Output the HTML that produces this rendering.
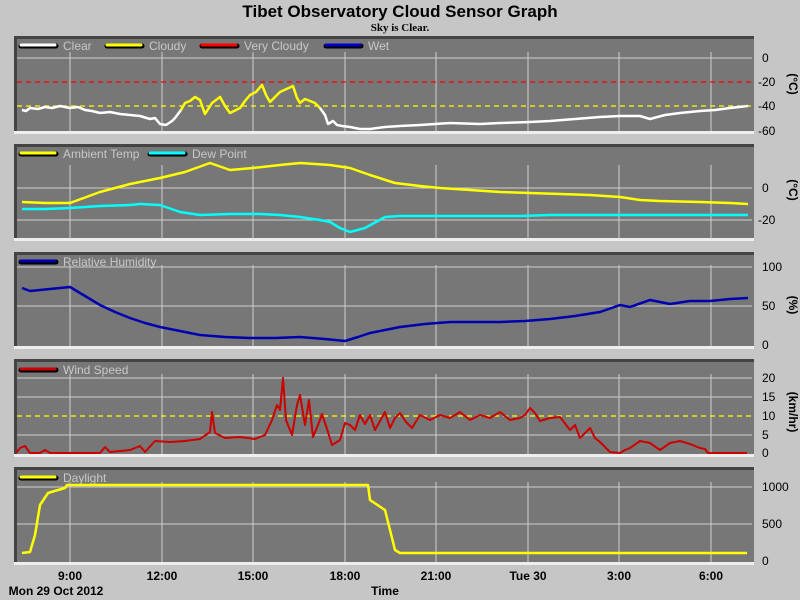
<!DOCTYPE html>
<html><head><meta charset="utf-8"><style>
body{margin:0;width:800px;height:600px;background:#c6c6c6;overflow:hidden}
svg{display:block}
text{font-family:"Liberation Sans",sans-serif}
</style></head><body>
<svg width="800" height="600" viewBox="0 0 800 600">
<defs>
<g id="vg" stroke="#cfcfcf" stroke-width="1">
<line x1="70" x2="70" y1="0" y2="100"/><line x1="162" x2="162" y1="0" y2="100"/><line x1="253" x2="253" y1="0" y2="100"/><line x1="345" x2="345" y1="0" y2="100"/><line x1="436" x2="436" y1="0" y2="100"/><line x1="528" x2="528" y1="0" y2="100"/><line x1="619" x2="619" y1="0" y2="100"/><line x1="711" x2="711" y1="0" y2="100"/>
</g>
</defs>
<text x="400" y="17" text-anchor="middle" font-size="17" font-weight="bold" fill="#000">Tibet Observatory Cloud Sensor Graph</text>
<text x="400" y="31" text-anchor="middle" font-size="11" font-weight="bold" fill="#000" style="font-family:'Liberation Serif',serif">Sky is Clear.</text>

<g>
<rect x="14" y="36" width="740" height="98" fill="#777"/><rect x="14" y="36" width="740" height="3" fill="#444"/><rect x="14" y="36" width="3" height="98" fill="#444"/><rect x="14" y="131" width="740" height="3" fill="#eee"/>
<rect x="14" y="144" width="740" height="97" fill="#777"/><rect x="14" y="144" width="740" height="3" fill="#444"/><rect x="14" y="144" width="3" height="97" fill="#444"/><rect x="14" y="238" width="740" height="3" fill="#eee"/>
<rect x="14" y="252" width="740" height="97" fill="#777"/><rect x="14" y="252" width="740" height="3" fill="#444"/><rect x="14" y="252" width="3" height="97" fill="#444"/><rect x="14" y="346" width="740" height="3" fill="#eee"/>
<rect x="14" y="359" width="740" height="98" fill="#777"/><rect x="14" y="359" width="740" height="3" fill="#444"/><rect x="14" y="359" width="3" height="98" fill="#444"/><rect x="14" y="454" width="740" height="3" fill="#eee"/>
<rect x="14" y="467" width="740" height="98" fill="#777"/><rect x="14" y="467" width="740" height="3" fill="#444"/><rect x="14" y="467" width="3" height="98" fill="#444"/><rect x="14" y="562" width="740" height="3" fill="#eee"/>
</g>
<g transform="translate(0,52) scale(1,0.79)"><use href="#vg"/></g>
<g transform="translate(0,165) scale(1,0.74)"><use href="#vg"/></g>
<g transform="translate(0,265) scale(1,0.81)"><use href="#vg"/></g>
<g transform="translate(0,374) scale(1,0.80)"><use href="#vg"/></g>
<g transform="translate(0,482) scale(1,0.80)"><use href="#vg"/></g>
<g stroke="#cfcfcf" stroke-width="1">
<line x1="17" x2="752" y1="58" y2="58"/>
<line x1="17" x2="752" y1="188" y2="188"/><line x1="17" x2="752" y1="220" y2="220"/>
<line x1="17" x2="752" y1="267" y2="267"/><line x1="17" x2="752" y1="306" y2="306"/>
<line x1="17" x2="752" y1="378" y2="378"/><line x1="17" x2="752" y1="397" y2="397"/><line x1="17" x2="752" y1="435" y2="435"/>
<line x1="17" x2="752" y1="487" y2="487"/><line x1="17" x2="752" y1="524" y2="524"/>
</g>
<g stroke-dasharray="5,4" stroke-width="1.3">
<line x1="17" x2="752" y1="82" y2="82" stroke="#f00"/>
<line x1="17" x2="752" y1="106" y2="106" stroke="#ff0"/>
<line x1="17" x2="752" y1="416" y2="416" stroke="#ff0"/>
</g>

<g font-size="12" fill="#c8c8c8">
<g stroke-width="5" stroke-linecap="round">
<line x1="21" x2="56" y1="46" y2="46" stroke="#000"/><line x1="21" x2="55" y1="45" y2="45" stroke="#fff" stroke-width="3"/>
<line x1="107" x2="142" y1="46" y2="46" stroke="#000"/><line x1="107" x2="141" y1="45" y2="45" stroke="#ff0" stroke-width="3"/>
<line x1="202" x2="237" y1="46" y2="46" stroke="#000"/><line x1="202" x2="236" y1="45" y2="45" stroke="#f00" stroke-width="3"/>
<line x1="326" x2="361" y1="46" y2="46" stroke="#000"/><line x1="326" x2="360" y1="45" y2="45" stroke="#00c" stroke-width="3"/>
<line x1="21" x2="56" y1="154" y2="154" stroke="#000"/><line x1="21" x2="55" y1="153" y2="153" stroke="#ff0" stroke-width="3"/>
<line x1="150" x2="185" y1="154" y2="154" stroke="#000"/><line x1="150" x2="184" y1="153" y2="153" stroke="#0ff" stroke-width="3"/>
<line x1="21" x2="56" y1="262" y2="262" stroke="#000"/><line x1="21" x2="55" y1="261" y2="261" stroke="#0000b0" stroke-width="3"/>
<line x1="21" x2="56" y1="370" y2="370" stroke="#000"/><line x1="21" x2="55" y1="369" y2="369" stroke="#c00" stroke-width="3"/>
<line x1="21" x2="56" y1="478" y2="478" stroke="#000"/><line x1="21" x2="55" y1="477" y2="477" stroke="#ff0" stroke-width="3"/>
</g>
<text x="63" y="50">Clear</text><text x="149" y="50">Cloudy</text><text x="244" y="50">Very Cloudy</text><text x="368" y="50">Wet</text>
<text x="63" y="158">Ambient Temp</text><text x="192" y="158">Dew Point</text>
<text x="63" y="266">Relative Humidity</text>
<text x="63" y="374">Wind Speed</text>
<text x="63" y="482">Daylight</text>
</g>

<g fill="none" stroke-width="2.5" stroke-linejoin="round">
<polyline stroke="#fff" points="22,110 26,111 30,108 38,109 45,107 52,108 60,106 70,108 78,107 85,110 92,111 100,113 110,112 120,114 130,115 140,116 150,119 155,118 160,124 166,125 172,121 175,118 181,110"/>
<polyline stroke="#ff0" points="181,110 185,103 190,101 195,97 200,100 205,114 212,103 220,97 225,106 230,113 240,108 245,101 250,95 256,92 262,85 266,95 270,102 280,92 293,86 297,98 300,103 305,99 310,101 315,103 320,108"/>
<polyline stroke="#fff" points="320,108 325,115 328,124 333,121 337,125 342,126 350,127 360,129 370,129 385,127 400,126 420,125 450,123 480,124 500,123 530,122 550,121 575,119 600,117 620,116 640,116 650,119 665,115 680,113 700,111 715,110 730,108 748,106"/>
<polyline stroke="#ff0" points="22,202 45,203 70,203 100,192 130,184 160,178 185,172 210,163 230,170 253,168 280,165 300,163 330,165 350,168 370,175 395,183 420,186 440,188 470,190 500,192 530,193 560,194 590,195 620,197 640,200 660,201 700,202 730,203 748,204"/>
<polyline stroke="#0ff" points="22,209 45,209 70,208 100,206 130,205 140,204 160,205 180,212 200,215 230,214 260,214 280,215 300,217 320,220 330,222 340,228 350,232 365,228 385,217 400,216 450,216 500,216 520,216 550,215 600,215 650,215 700,215 748,215"/>
<polyline stroke="#0000b0" points="22,288 30,291 50,289 70,287 85,296 100,305 115,312 130,318 145,323 160,327 180,331 200,335 225,337 250,338 275,338 300,337 325,339 345,341 358,337 370,333 385,330 400,327 425,324 450,322 475,322 500,322 525,321 550,319 575,316 600,312 620,305 630,307 650,300 670,304 690,301 710,301 730,299 748,298"/>
<polyline stroke="#c00" stroke-width="2" points="16,453 20,448 25,446 30,453 40,453 45,450 50,453 100,453 105,447 110,452 120,451 130,450 140,446 145,452 155,441 170,442 185,441 200,439 210,432 212,412 215,433 225,438 240,437 255,439 265,435 272,420 277,405 280,410 283,378 286,420 292,435 297,405 300,395 305,425 309,400 313,437 320,420 322,414 328,432 332,445 340,440 345,423 350,425 355,430 360,415 365,424 370,415 375,430 385,412 390,428 395,418 400,413 406,422 412,428 420,415 430,420 440,415 450,418 460,412 470,420 480,415 490,418 500,412 510,420 520,418 525,415 530,408 535,413 540,421 550,418 560,417 570,430 575,425 580,438 590,428 595,438 600,442 610,452 620,453 625,450 630,448 640,441 650,443 660,450 670,443 680,441 690,444 700,448 705,449 708,453 747,453"/>
<polyline stroke="#ff0" points="22,553 30,552 35,535 40,505 48,493 58,490 65,488 67,485 368,485 370,500 385,510 390,530 395,550 400,553 747,553"/>
</g>

<g font-size="12" fill="#000">
<text x="762" y="62">0</text><text x="758" y="86">-20</text><text x="758" y="110">-40</text><text x="758" y="135">-60</text>
<text x="762" y="192">0</text><text x="758" y="224">-20</text>
<text x="762" y="271">100</text><text x="762" y="310">50</text><text x="762" y="349">0</text>
<text x="762" y="382">20</text><text x="762" y="401">15</text><text x="762" y="420">10</text><text x="762" y="439">5</text><text x="762" y="457">0</text>
<text x="762" y="491">1000</text><text x="762" y="528">500</text><text x="762" y="565">0</text>
</g>
<g font-size="12" font-weight="bold" fill="#000">
<text transform="translate(789,84) rotate(90)" text-anchor="middle">(°C)</text>
<text transform="translate(789,190) rotate(90)" text-anchor="middle">(°C)</text>
<text transform="translate(789,305) rotate(90)" text-anchor="middle">(%)</text>
<text transform="translate(789,412) rotate(90)" text-anchor="middle">(km/hr)</text>
</g>
<g font-size="12" font-weight="bold" fill="#000" text-anchor="middle">
<text x="70" y="580">9:00</text><text x="162" y="580">12:00</text><text x="253" y="580">15:00</text><text x="345" y="580">18:00</text><text x="436" y="580">21:00</text><text x="528" y="580">Tue 30</text><text x="619" y="580">3:00</text><text x="711" y="580">6:00</text>
<text x="56" y="595">Mon 29 Oct 2012</text><text x="385" y="595">Time</text>
</g>
</svg>
</body></html>
